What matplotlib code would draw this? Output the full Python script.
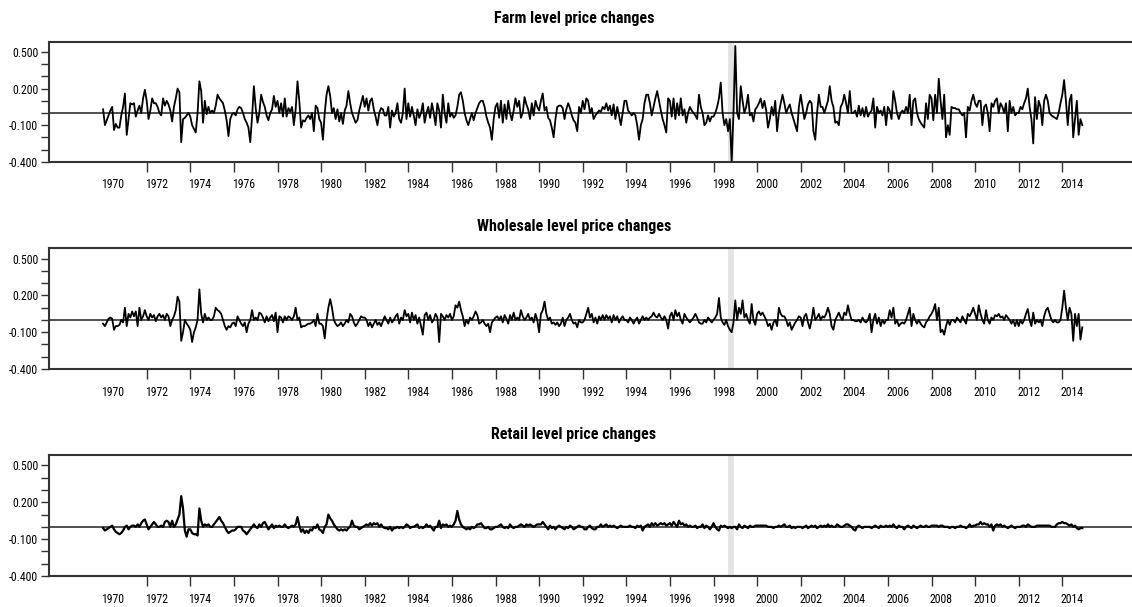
import numpy as np
import matplotlib
matplotlib.use("Agg")
import matplotlib.pyplot as plt
from matplotlib import font_manager

# pick a condensed face if one is installed
names = {f.name for f in font_manager.fontManager.ttflist}
cond = [n for n in ["Liberation Sans Narrow", "DejaVu Sans Condensed", "Roboto Condensed",
                    "Open Sans Condensed", "Noto Sans Condensed"] if n in names]
plt.rcParams["font.family"] = cond + ["DejaVu Sans"]
plt.rcParams["font.stretch"] = "condensed"

# monthly series, Jan 1970 .. Dec 2014 (one row per year)
farm = [
    0.03, -0.10, -0.06, -0.02, 0.02, 0.05, -0.14, -0.09, -0.12, -0.12, -0.02, 0.05,   # 1970
    0.16, -0.18, -0.05, 0.08, 0.07, 0.08, -0.03, 0.02, 0.06, 0.00, 0.12, 0.19,        # 1971
    0.10, -0.05, 0.02, 0.12, 0.08, 0.08, 0.05, 0.00, -0.02, 0.12, 0.06, 0.10,         # 1972
    0.07, 0.02, -0.07, 0.05, 0.12, 0.20, 0.17, -0.24, -0.05, -0.04, -0.02, 0.00,      # 1973
    -0.03, -0.10, -0.13, -0.16, 0.00, 0.26, 0.18, -0.08, 0.10, -0.01, 0.05, 0.00,     # 1974
    0.02, 0.00, 0.06, 0.15, 0.12, 0.10, 0.08, 0.02, -0.06, -0.19, -0.05, -0.01,       # 1975
    0.00, -0.02, 0.03, 0.05, 0.04, 0.00, -0.05, -0.08, -0.12, -0.24, -0.03, 0.22,     # 1976
    0.04, -0.08, 0.00, 0.15, 0.09, 0.05, -0.02, -0.06, 0.00, 0.03, 0.14, 0.05,        # 1977
    0.10, 0.00, 0.08, -0.03, 0.12, -0.03, 0.04, 0.01, 0.05, -0.10, 0.03, 0.26,        # 1978
    0.10, -0.12, -0.06, -0.07, -0.04, -0.02, -0.05, 0.00, -0.15, 0.06, 0.04, -0.05,   # 1979
    -0.08, -0.22, 0.00, 0.15, 0.22, 0.14, 0.00, 0.04, -0.05, 0.03, -0.07, 0.00,       # 1980
    -0.09, 0.02, 0.06, 0.18, 0.08, 0.00, -0.04, -0.08, -0.06, 0.02, 0.08, 0.14,       # 1981
    0.05, 0.12, 0.02, 0.10, 0.12, 0.03, -0.03, -0.10, 0.00, 0.04, 0.03, -0.02,        # 1982
    -0.02, 0.05, -0.12, 0.02, -0.03, 0.00, 0.08, -0.05, -0.08, 0.00, 0.20, -0.05,     # 1983
    0.08, -0.03, 0.05, -0.02, -0.10, 0.03, -0.04, 0.00, 0.08, -0.08, 0.00, 0.05,      # 1984
    -0.04, 0.08, 0.00, -0.10, 0.08, 0.02, -0.12, 0.15, 0.00, -0.08, 0.08, -0.03,      # 1985
    0.00, -0.04, -0.02, 0.05, 0.15, 0.17, 0.10, 0.00, -0.06, -0.10, -0.05, 0.00,      # 1986
    -0.06, 0.00, 0.04, 0.08, 0.10, 0.10, 0.05, -0.03, -0.08, -0.12, -0.22, -0.05,     # 1987
    0.05, 0.08, -0.04, 0.10, -0.08, 0.07, -0.05, 0.10, 0.00, -0.06, 0.02, 0.12,       # 1988
    0.05, 0.10, -0.04, 0.00, 0.13, 0.07, 0.03, -0.05, 0.08, -0.02, 0.10, 0.05,        # 1989
    0.02, 0.10, 0.16, 0.02, 0.05, -0.04, -0.06, -0.12, -0.20, -0.05, 0.05, 0.06,      # 1990
    0.06, 0.04, -0.05, 0.03, 0.08, 0.04, -0.02, -0.06, -0.08, -0.15, 0.05, 0.00,      # 1991
    0.10, 0.03, 0.12, 0.10, 0.00, 0.04, -0.05, -0.02, 0.00, 0.02, 0.01, 0.05,         # 1992
    0.03, 0.08, 0.02, 0.06, -0.02, 0.07, -0.05, 0.05, -0.02, -0.10, 0.00, 0.10,       # 1993
    0.10, 0.02, 0.00, -0.02, 0.00, -0.02, -0.10, -0.22, -0.10, -0.05, 0.08, 0.15,     # 1994
    0.15, 0.08, -0.02, 0.05, 0.12, 0.18, 0.10, 0.02, -0.05, -0.10, -0.16, 0.12,       # 1995
    0.10, -0.03, 0.12, -0.05, 0.08, -0.02, 0.12, -0.02, 0.03, -0.08, 0.00, 0.05,      # 1996
    0.02, 0.00, -0.02, -0.05, 0.15, 0.05, 0.00, -0.10, -0.08, -0.02, -0.07, -0.03,    # 1997
    -0.03, 0.00, 0.05, 0.12, 0.25, 0.00, -0.10, -0.05, -0.15, -0.05, -0.40, 0.00,     # 1998
    0.55, 0.00, -0.05, 0.22, 0.10, 0.00, 0.05, 0.15, -0.02, 0.00, -0.07, 0.03,        # 1999
    0.05, 0.08, 0.12, 0.04, 0.10, 0.02, -0.12, -0.05, 0.05, -0.02, 0.10, -0.15,       # 2000
    0.00, 0.08, 0.15, 0.08, 0.00, 0.04, 0.07, 0.00, -0.05, -0.10, -0.15, 0.05,        # 2001
    0.15, 0.05, -0.05, 0.00, 0.07, 0.10, 0.08, -0.15, -0.22, 0.00, 0.15, 0.05,        # 2002
    0.05, 0.00, 0.05, 0.10, 0.22, 0.10, 0.05, -0.08, -0.07, -0.10, 0.05, 0.08,        # 2003
    0.15, 0.08, 0.00, 0.18, 0.00, 0.00, 0.02, -0.03, 0.06, -0.02, 0.04, -0.03,        # 2004
    0.05, -0.03, 0.00, 0.02, 0.12, -0.12, 0.05, 0.00, 0.02, -0.02, 0.05, -0.10,       # 2005
    0.05, 0.02, -0.05, 0.18, 0.10, 0.00, -0.05, 0.00, 0.02, 0.00, 0.05, 0.00,         # 2006
    0.15, -0.10, 0.10, 0.12, 0.00, -0.05, -0.08, -0.10, -0.12, 0.08, -0.05, 0.15,     # 2007
    0.12, -0.06, 0.15, 0.00, 0.28, 0.10, -0.05, 0.15, -0.20, -0.10, -0.18, 0.05,      # 2008
    0.04, 0.04, 0.03, 0.03, 0.00, -0.02, 0.00, -0.20, 0.05, 0.02, 0.10, 0.15,         # 2009
    0.08, 0.05, 0.10, 0.10, -0.10, 0.05, 0.07, 0.00, -0.15, 0.08, 0.05, 0.10,         # 2010
    0.12, 0.00, 0.08, 0.05, 0.00, 0.08, -0.15, 0.10, 0.00, 0.05, -0.02, 0.00,         # 2011
    0.00, 0.05, 0.03, 0.08, 0.12, 0.20, 0.05, -0.05, -0.25, 0.13, -0.05, 0.10,        # 2012
    0.05, -0.10, 0.10, 0.15, 0.10, 0.00, -0.02, -0.03, -0.04, -0.05, 0.00, 0.08,      # 2013
    0.15, 0.27, 0.10, -0.10, 0.10, 0.15, -0.20, -0.05, 0.10, -0.18, -0.05, -0.10,     # 2014
]

wholesale = [
    -0.03, -0.05, -0.02, 0.01, 0.02, 0.01, -0.08, -0.05, -0.05, -0.04, 0.00, -0.02,   # 1970
    0.10, -0.05, 0.05, 0.02, 0.07, 0.03, 0.07, -0.05, 0.10, 0.00, 0.03, 0.08,         # 1971
    0.03, 0.00, 0.05, 0.02, 0.04, -0.01, 0.03, 0.05, 0.02, 0.04, 0.00, 0.05,          # 1972
    0.03, -0.05, 0.00, 0.03, 0.08, 0.19, 0.15, -0.17, -0.10, 0.00, -0.03, -0.05,      # 1973
    -0.08, -0.18, -0.10, -0.06, 0.00, 0.25, 0.05, -0.02, 0.05, 0.00, 0.02, 0.00,      # 1974
    0.00, 0.03, 0.10, 0.08, 0.07, 0.05, 0.00, -0.05, -0.08, -0.05, -0.06, -0.03,      # 1975
    -0.02, -0.05, 0.03, 0.00, -0.03, -0.05, -0.02, -0.10, -0.03, 0.00, 0.08, 0.00,    # 1976
    0.02, 0.00, 0.06, 0.05, 0.02, -0.02, 0.03, -0.01, 0.02, 0.04, -0.01, 0.06,        # 1977
    -0.10, 0.03, 0.02, -0.02, 0.03, 0.00, 0.03, 0.02, 0.00, 0.03, 0.10, 0.00,         # 1978
    0.02, -0.06, -0.05, -0.05, -0.04, -0.03, -0.03, -0.02, 0.00, -0.05, 0.05, -0.03,  # 1979
    -0.03, -0.05, -0.15, 0.00, 0.10, 0.17, 0.10, 0.00, -0.03, -0.05, -0.04, -0.02,    # 1980
    -0.05, -0.03, 0.00, -0.02, 0.05, 0.03, -0.02, -0.05, -0.03, 0.00, 0.03, 0.02,     # 1981
    0.02, 0.00, -0.05, -0.02, -0.06, -0.03, 0.00, -0.04, -0.02, -0.05, -0.01, 0.03,   # 1982
    0.00, -0.03, 0.02, -0.02, 0.00, 0.03, 0.05, -0.03, 0.02, 0.00, 0.08, 0.03,        # 1983
    0.05, -0.02, 0.06, 0.00, 0.04, -0.03, 0.02, -0.05, -0.12, 0.04, 0.06, 0.00,       # 1984
    0.04, -0.02, 0.00, 0.05, 0.02, -0.18, 0.05, 0.03, 0.00, 0.04, 0.02, 0.05,         # 1985
    0.00, 0.03, 0.12, 0.10, 0.15, 0.08, 0.03, -0.05, 0.00, -0.03, 0.02, 0.00,         # 1986
    0.03, 0.07, 0.04, -0.03, -0.02, 0.00, -0.03, -0.05, -0.03, -0.10, -0.02, 0.00,    # 1987
    0.02, 0.03, 0.00, 0.03, -0.02, 0.04, 0.01, -0.03, 0.04, 0.00, 0.06, 0.00,         # 1988
    0.02, 0.00, 0.08, 0.03, 0.00, 0.02, 0.05, 0.00, 0.02, -0.02, 0.05, 0.00,          # 1989
    -0.10, 0.05, 0.08, 0.15, 0.05, 0.00, 0.02, -0.03, -0.02, -0.04, -0.02, -0.05,     # 1990
    -0.03, 0.02, -0.05, 0.00, 0.02, 0.05, 0.00, -0.03, -0.02, -0.06, 0.00, -0.02,     # 1991
    -0.02, 0.00, 0.05, 0.10, 0.02, 0.05, -0.02, 0.02, -0.03, 0.03, 0.00, 0.04,        # 1992
    0.00, 0.04, 0.01, 0.03, -0.02, 0.04, 0.00, 0.03, -0.02, 0.01, 0.03, 0.00,         # 1993
    0.00, -0.02, 0.02, 0.00, -0.03, 0.00, 0.02, -0.03, 0.00, 0.03, 0.00, 0.02,        # 1994
    0.00, 0.02, 0.03, 0.06, 0.03, 0.02, 0.05, 0.02, 0.00, 0.03, 0.00, -0.07,          # 1995
    0.03, 0.06, 0.00, 0.08, 0.03, 0.06, 0.00, -0.03, 0.05, 0.02, 0.00, -0.02,         # 1996
    0.00, 0.02, 0.05, 0.02, -0.02, -0.03, -0.03, 0.00, -0.02, 0.02, 0.00, -0.02,      # 1997
    0.00, 0.02, 0.05, 0.18, 0.02, -0.02, -0.04, 0.00, -0.05, -0.08, -0.10, -0.02,     # 1998
    0.16, 0.00, 0.10, 0.05, 0.16, 0.02, 0.05, 0.00, -0.03, 0.13, 0.00, -0.04,         # 1999
    0.05, 0.07, 0.04, 0.06, 0.03, 0.00, -0.05, -0.03, -0.08, -0.02, 0.00, -0.05,      # 2000
    0.10, 0.05, 0.03, 0.03, 0.00, -0.05, -0.02, -0.08, -0.05, -0.02, 0.00, 0.03,      # 2001
    0.02, -0.05, 0.03, 0.05, -0.02, -0.07, 0.00, 0.10, 0.00, 0.02, 0.05, 0.00,        # 2002
    0.03, 0.02, 0.05, 0.10, 0.05, -0.05, -0.08, 0.00, 0.03, 0.06, 0.02, 0.00,         # 2003
    0.06, 0.04, 0.12, 0.05, 0.00, 0.00, -0.01, -0.01, 0.00, -0.02, 0.02, -0.01,       # 2004
    -0.02, 0.00, 0.05, -0.10, 0.00, 0.05, -0.03, 0.02, -0.05, 0.00, -0.03, 0.00,      # 2005
    0.00, 0.08, 0.02, 0.10, -0.03, 0.00, -0.05, -0.03, -0.02, -0.03, 0.00, 0.05,      # 2006
    0.10, -0.05, 0.05, 0.00, -0.03, 0.00, -0.03, -0.05, -0.06, -0.02, 0.00, 0.03,     # 2007
    0.05, 0.08, 0.13, 0.00, 0.10, -0.10, -0.08, -0.12, -0.05, 0.00, -0.04, 0.00,      # 2008
    0.00, -0.02, 0.02, 0.00, -0.02, 0.03, 0.00, -0.03, 0.05, 0.03, 0.06, 0.10,        # 2009
    0.05, 0.00, 0.12, 0.05, 0.00, -0.03, 0.08, 0.00, -0.03, 0.02, 0.00, 0.04,         # 2010
    0.03, 0.05, 0.02, 0.03, 0.00, 0.04, 0.02, 0.00, -0.03, 0.00, -0.05, 0.00,         # 2011
    -0.05, 0.00, -0.03, 0.00, 0.05, 0.09, 0.00, -0.05, 0.06, -0.03, 0.00, -0.02,      # 2012
    0.00, -0.05, 0.03, 0.08, 0.10, 0.05, 0.00, -0.02, 0.00, -0.02, -0.02, 0.00,       # 2013
    0.10, 0.24, 0.10, 0.00, 0.10, 0.05, -0.17, 0.05, -0.05, 0.05, -0.16, -0.06,       # 2014
]

retail = [
    -0.01, -0.03, -0.02, -0.01, 0.00, 0.01, -0.02, -0.04, -0.05, -0.06, -0.05, -0.03, # 1970
    0.00, 0.01, -0.02, 0.00, 0.01, 0.01, 0.00, 0.02, 0.00, 0.03, 0.05, 0.06,          # 1971
    0.02, -0.02, 0.00, 0.02, 0.04, 0.02, 0.00, 0.00, 0.01, 0.00, 0.04, 0.05,          # 1972
    0.04, 0.00, 0.05, 0.00, 0.02, 0.06, 0.10, 0.25, 0.15, -0.03, -0.08, -0.02,        # 1973
    -0.02, -0.05, -0.06, -0.06, -0.07, 0.15, 0.05, 0.00, 0.02, 0.01, 0.02, 0.00,      # 1974
    0.00, 0.02, 0.04, 0.06, 0.08, 0.05, 0.03, 0.00, -0.03, -0.05, -0.04, -0.03,       # 1975
    -0.03, -0.02, 0.00, 0.00, 0.00, -0.03, -0.04, -0.06, -0.04, -0.02, 0.00, 0.02,    # 1976
    0.00, -0.01, 0.02, 0.00, 0.03, 0.04, 0.01, -0.02, 0.00, 0.02, -0.01, 0.01,        # 1977
    0.00, 0.01, 0.00, 0.00, 0.02, 0.00, -0.01, 0.00, 0.01, 0.00, 0.02, 0.08,          # 1978
    0.01, -0.04, -0.02, -0.05, -0.03, -0.05, -0.02, -0.03, 0.00, -0.01, 0.02, -0.02,  # 1979
    -0.03, -0.05, 0.00, 0.02, 0.10, 0.07, 0.05, 0.02, 0.00, -0.02, -0.03, -0.02,      # 1980
    -0.03, -0.02, -0.03, -0.01, 0.00, 0.05, 0.01, 0.00, 0.00, -0.02, -0.01, 0.00,     # 1981
    0.01, 0.02, 0.01, 0.03, 0.01, 0.03, 0.02, 0.03, 0.00, 0.02, 0.00, -0.01,          # 1982
    -0.01, -0.02, 0.00, -0.03, -0.01, -0.01, 0.00, -0.01, 0.00, -0.01, 0.00, 0.02,    # 1983
    0.01, -0.01, 0.00, 0.00, 0.01, 0.02, -0.01, 0.00, -0.01, 0.00, 0.02, 0.00,        # 1984
    0.01, -0.01, -0.03, 0.00, 0.00, 0.05, -0.01, 0.02, 0.01, 0.02, 0.00, 0.01,        # 1985
    0.00, 0.02, 0.05, 0.13, 0.06, 0.02, 0.00, -0.01, -0.02, -0.01, -0.02, 0.00,       # 1986
    -0.01, 0.00, 0.02, 0.02, 0.03, 0.01, -0.01, -0.01, 0.00, -0.02, -0.02, -0.01,     # 1987
    0.00, 0.00, 0.01, 0.02, 0.00, -0.01, 0.00, -0.01, 0.02, 0.00, -0.01, 0.00,        # 1988
    0.00, 0.01, 0.02, 0.01, 0.00, 0.02, 0.01, 0.02, 0.01, 0.00, 0.01, 0.02,           # 1989
    0.02, 0.02, 0.04, 0.02, 0.00, -0.02, 0.01, -0.01, 0.00, -0.02, 0.00, 0.01,        # 1990
    0.00, -0.01, -0.02, 0.00, -0.01, 0.01, 0.00, -0.02, -0.01, 0.00, 0.01, 0.00,      # 1991
    0.00, -0.02, -0.02, 0.00, 0.01, -0.01, -0.02, -0.02, 0.00, 0.00, 0.02, 0.00,      # 1992
    0.01, 0.02, 0.00, 0.01, 0.00, 0.01, 0.00, -0.01, 0.00, 0.01, 0.00, 0.00,          # 1993
    0.00, 0.00, 0.01, 0.00, 0.00, -0.01, 0.01, 0.00, 0.01, -0.03, 0.00, 0.01,         # 1994
    0.02, 0.00, 0.03, 0.01, 0.03, 0.01, 0.02, 0.03, 0.02, 0.03, 0.01, 0.02,           # 1995
    0.03, 0.01, 0.04, 0.02, 0.00, 0.05, 0.02, 0.03, 0.01, 0.02, 0.00, 0.01,           # 1996
    0.00, 0.00, 0.01, -0.01, 0.00, 0.00, 0.02, -0.01, 0.01, 0.00, -0.02, 0.00,        # 1997
    0.03, 0.00, -0.02, -0.03, 0.01, 0.00, 0.01, 0.00, -0.01, 0.00, -0.01, 0.00,       # 1998
    0.00, -0.02, 0.02, 0.00, -0.01, 0.01, 0.00, -0.01, 0.01, 0.00, 0.00, 0.01,        # 1999
    0.01, 0.01, 0.01, 0.01, 0.01, 0.01, 0.00, 0.00, 0.00, -0.01, 0.00, 0.00,          # 2000
    0.01, 0.00, 0.01, 0.02, 0.00, 0.00, 0.01, -0.01, 0.00, -0.01, 0.00, 0.00,         # 2001
    0.00, -0.01, 0.00, 0.01, -0.01, 0.00, 0.01, 0.00, 0.01, -0.01, 0.00, 0.01,        # 2002
    0.00, 0.01, 0.00, 0.02, 0.00, 0.01, 0.00, 0.00, 0.02, 0.01, 0.00, 0.00,           # 2003
    0.01, 0.02, 0.02, 0.01, 0.00, -0.02, -0.03, 0.00, 0.01, 0.00, -0.01, 0.00,        # 2004
    0.00, 0.00, 0.00, -0.01, 0.00, 0.01, 0.00, -0.01, 0.01, 0.00, 0.00, 0.01,         # 2005
    0.00, 0.01, 0.00, 0.02, 0.00, -0.01, 0.01, 0.00, 0.00, -0.02, 0.00, 0.01,         # 2006
    0.00, -0.01, 0.01, 0.00, -0.01, 0.00, 0.01, 0.00, 0.00, 0.01, 0.00, 0.00,         # 2007
    0.01, 0.01, 0.01, 0.01, 0.00, 0.01, 0.01, 0.00, 0.00, 0.00, -0.01, 0.00,          # 2008
    0.00, -0.01, 0.00, 0.00, 0.01, 0.00, 0.00, -0.01, 0.00, 0.02, 0.00, 0.01,         # 2009
    0.01, 0.02, 0.02, 0.04, 0.02, 0.03, 0.02, 0.02, 0.00, 0.02, -0.03, 0.01,          # 2010
    0.02, 0.01, 0.02, 0.00, 0.01, 0.00, -0.01, 0.00, 0.01, 0.00, -0.01, 0.00,         # 2011
    0.00, 0.00, 0.01, 0.01, 0.00, 0.02, 0.01, 0.00, 0.00, 0.00, 0.01, 0.01,           # 2012
    0.01, 0.01, 0.01, 0.01, 0.01, 0.01, 0.00, 0.00, 0.00, 0.02, 0.03, 0.03,           # 2013
    0.04, 0.03, 0.03, 0.02, 0.01, 0.02, 0.00, 0.01, -0.01, -0.02, -0.01, -0.01,       # 2014
]

titles = ["Farm level price changes", "Wholesale level price changes", "Retail level price changes"]
year_labels = list(range(1970, 2015, 2))
tick_years = list(range(1972, 2015, 2))
ytick_vals = [0.5, 0.2, -0.1, -0.4]
shade = (1998.67, 1998.94)

W, H = 1132, 607
fig = plt.figure(figsize=(W / 100, H / 100), dpi=100)

# axes boxes in pixels: (top, bottom) and title y
panels = [(41.7, 161.7, 18), (248.3, 369.0, 227), (455.0, 576.0, 435)]
left_px = 49.3
px_per_year = 21.8
ax_w = W - left_px + 11
x0 = 1972 - (146.7 - left_px) / px_per_year

for series, title, (top, bot, ty) in zip([farm, wholesale, retail], titles, panels):
    ax = fig.add_axes([left_px / W, 1 - bot / H, ax_w / W, (bot - top) / H])
    x = 1970 + np.arange(len(series)) / 12.0
    ax.axvspan(shade[0], shade[1], color="#e4e4e4", lw=0, zorder=0)
    ax.axhline(0, color="#222222", lw=1.1, zorder=1)
    lw = 1.6 if series is retail else 1.3
    ax.plot(x, series, color="black", lw=lw, zorder=2)

    ax.set_xlim(x0, x0 + ax_w / px_per_year)
    ax.set_ylim(-0.4, 0.585)

    ax.set_xticks(tick_years)
    ax.set_xticklabels([])
    ax.set_xticks([y + 0.45 for y in year_labels], minor=True)
    ax.set_xticklabels([str(y) for y in year_labels], minor=True, fontsize=8.5)
    ax.tick_params(axis="x", which="major", direction="out", length=7, width=1, color="#333333")
    ax.tick_params(axis="x", which="minor", length=0, pad=12)

    ax.set_yticks(ytick_vals)
    ax.set_yticklabels(["%.3f" % v for v in ytick_vals], fontsize=8.5)
    ax.set_yticks([0.4, 0.3, 0.1, 0.0, -0.2, -0.3], minor=True)
    ax.tick_params(axis="y", which="both", direction="out", length=6, width=1, color="#333333", pad=2)

    for s in ["left", "bottom", "top"]:
        ax.spines[s].set_linewidth(1.5)
        ax.spines[s].set_color("#333333")
    ax.spines["right"].set_visible(False)

    fig.text(574 / W, 1 - ty / H, title, ha="center", va="center", fontsize=11.5, fontweight="bold")

fig.savefig("out.png", dpi=100)
